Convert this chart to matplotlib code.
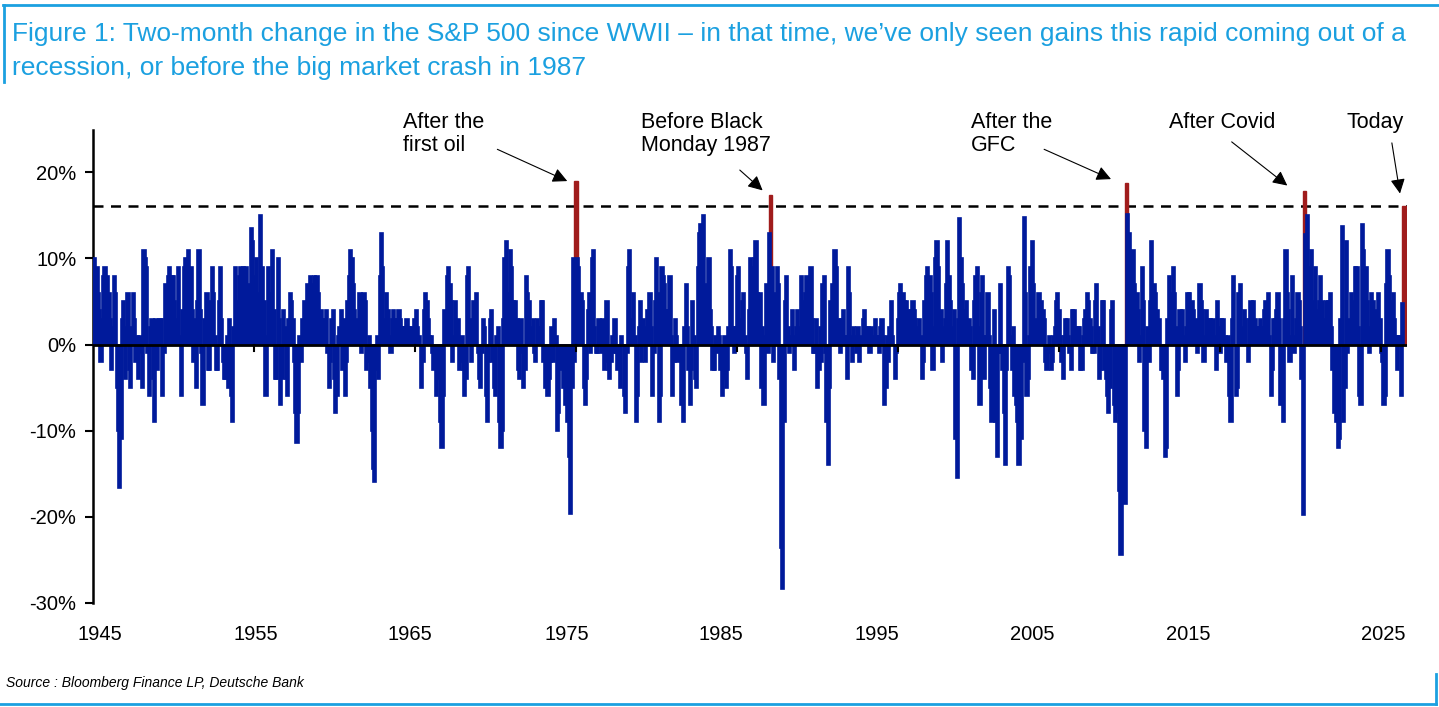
import matplotlib.pyplot as plt
import matplotlib.lines as mlines
import numpy as np

plt.rcParams['font.family'] = ['Liberation Sans', 'DejaVu Sans']

# two-month % change in the S&P 500, one row per year (Jan..Dec)
rows = {
1945: [7, 10, 8, 9, 6, 4, -2, 3, 8, 9, 7, 8],
1946: [6, 3, -3, 2, 8, 6, -5, -10, -16.7, -11, 3, 5],
1947: [-4, 2, 6, -3, -5, 2, 6, 3, -2, 1, -4, 1],
1948: [-1, -5, 11, 10, 9, -1, -6, 2, 3, -4, -9, 3],
1949: [-3, 2, 3, 3, -6, -1, 7, 5, 8, 9, 6, 8],
1950: [8, 5, 1, 3, 9, 1, -6, 4, 9, 10, 6, 11],
1951: [7, 9, 4, -2, 3, -5, 5, 11, 4, -1, -7, 3],
1952: [2, 6, -3, -3, 5, 9, 6, 1, -3, -3, 5, 9],
1953: [3, -2, -4, -4, 1, -5, 3, -6, -9, 2, 9, 4],
1954: [5, 8, 9, 8, 9, 5, 9, 5, 2, 7, 13.5, 12],
1955: [8, 3, 10, 5, 6, 15, 9, 2, 5, -6, 1, 9],
1956: [6, 3, 11, 4, -4, -4, 10, 3, -7, -4, 4, 2],
1957: [-4, -6, 3, 6, 5, 3, -2, -8, -11.4, -8, 1, -2],
1958: [3, 1, 5, 4, 7, 6, 8, 7, 5, 8, 7, 8],
1959: [6, 2, 4, 3, 1, 3, 4, -1, -5, -2, 3, 4],
1960: [-4, -8, -6, 1, 2, 4, -3, 3, -6, -2, 5, 8],
1961: [11, 10, 7, 4, 3, 1, 2, 6, -1, 1, 6, 5],
1962: [-3, -2, 1, -5, -10, -14.5, -16, -3, 1, -4, 8, 13],
1963: [9, 3, 2, 6, 4, 1, -1, 3, 4, 3, 2, 3],
1964: [4, 3, 2, 1, 2, 2, 3, 1, 2, 2, 1, 0],
1965: [3, 4, 2, 1, 0, -5, -2, 4, 6, 5, 3, 1],
1966: [1, -1, -3, -2, -6, -4, -3, -9, -12, -6, 4, 1],
1967: [8, 9, 7, 5, -2, 1, 5, 2, 3, -3, -2, 1],
1968: [-3, -6, -4, 8, 9, 3, -2, 1, 5, 3, 6, -1],
1969: [-4, -5, -1, 3, 2, -6, -9, -2, 3, 4, -2, -5],
1970: [-6, 1, 2, -9, -12, -10, 3, 10, 12, 5, 6, 11],
1971: [9, 5, 4, 5, 3, -3, -4, 3, -1, -5, -3, 8],
1972: [6, 5, 2, 1, 3, -1, -2, 3, 2, 2, 5, 5],
1973: [-2, -5, -3, -6, -4, -2, 2, -2, 3, 1, -10, -8],
1974: [-3, -1, -2, -5, -7, -3, -9, -13, -19.7, -5, 10, -2],
1975: [19, 10, 9, 5, 6, 5, -5, -7, -4, 4, 6, -1],
1976: [10, 11, 2, -1, -1, 3, 1, -1, 3, -3, -2, 5],
1977: [-3, -4, -2, 1, -1, 3, -1, -3, -2, -5, 1, 0],
1978: [-6, -8, -1, 9, 11, 2, 3, 6, 1, -9, -6, 2],
1979: [5, -2, 3, 2, -2, 4, 2, 6, 2, -6, -1, 5],
1980: [10, 6, -9, -6, 9, 8, 7, 4, 3, 4, 8, 1],
1981: [-6, -2, 3, 1, -2, -1, -1, -7, -9, 2, 7, 2],
1982: [-3, -7, -3, 5, 1, -4, -5, 9, 13, 14, 9, 15],
1983: [7, 5, 6, 10, 4, 2, -3, -3, 1, -1, 2, 1],
1984: [-3, -6, -4, 1, -5, -3, 2, 11, 9, 2, -1, 2],
1985: [8, 9, 3, 1, 5, 6, 1, -1, -4, 4, 10, 9],
1986: [4, 10, 12, 6, 3, 6, -5, 2, -7, 1, 7, -1],
1987: [13, 17.4, 9, -2, 1, 6, 9, 7, -4, -23.6, -28.4, -9],
1988: [5, 8, 2, -1, 1, 4, 1, -3, 2, 4, 1, 2],
1989: [8, 5, 2, 6, 8, 3, 6, 9, 3, -1, -1, 3],
1990: [-5, -3, 2, -2, 7, 8, -1, -9, -14, -5, 5, 7],
1991: [6, 11, 9, 2, 3, -1, 3, 4, 1, 1, -4, 9],
1992: [6, 1, -2, 2, 1, -1, 2, -2, 0, 1, 3, 4],
1993: [2, 1, 2, -1, 2, 1, 0, 3, 1, 1, -1, 2],
1994: [3, 1, -7, -5, 1, -2, 2, 5, 1, 0, -4, -1],
1995: [3, 6, 7, 5, 6, 5, 5, 2, 4, 1, 4, 5],
1996: [4, 3, 1, 2, 3, 1, -4, -2, 5, 8, 9, 6],
1997: [8, 6, -3, 2, 10, 12, 9, 1, 4, -2, 2, 3],
1998: [7, 12, 8, 5, 1, 2, 4, -11, -15.5, 3, 14.7, 10],
1999: [7, 3, 4, 5, 1, 3, 2, -3, -4, 5, 8, 9],
2000: [2, -7, 6, 8, -4, 1, 1, 6, 1, -5, -9, -8],
2001: [4, -9, -13, -1, 7, -1, -3, -8, -14, -3, 9, 8],
2002: [1, -3, 2, -6, -7, -9, -14, -9, -11, -2, 14.8, 6],
2003: [-6, -4, 1, 9, 12, 7, 3, 2, 2, 6, 3, 5],
2004: [4, 3, -2, -3, -1, 1, -3, -2, 1, 2, 5, 6],
2005: [4, 1, -2, -4, 1, 3, 3, 1, -1, -3, 4, 4],
2006: [2, 1, 2, 2, -3, -3, 1, 3, 4, 6, 5, 3],
2007: [2, -1, -1, 5, 7, 2, -4, -3, 5, 5, -3, -4],
2008: [-6, -8, -5, 4, 5, -7, -9, -1, -8, -17, -24.4, -9],
2009: [-4, -18.5, 18.8, 15.2, 13, 5, 9, 11, 7, 5, 6, 4],
2010: [-2, 1, 9, 5, -10, -12, 2, -2, 5, 12, 4, 7],
2011: [6, 4, 1, 3, -3, -3, -4, -13, -12, 3, 8, 1],
2012: [6, 9, 6, 2, -6, -3, 4, 3, 4, 1, -2, 2],
2013: [6, 6, 4, 5, 4, 0, 3, -1, 2, 7, 5, 4],
2014: [-2, 1, 4, 1, 3, 3, 1, 3, 1, -3, 5, 2],
2015: [-1, 3, 3, 0, 1, -2, 1, -6, -9, 3, 8, 0],
2016: [-6, -5, 6, 7, 2, 1, 4, 3, 0, -2, 3, 5],
2017: [3, 5, 3, 1, 2, 2, 3, 2, 2, 4, 5, 4],
2018: [6, 1, -6, -3, 3, 3, 4, 6, 3, -7, -5, -9],
2019: [3, 11, 6, 4, -2, 1, 8, -1, 1, 3, 6, 5],
2020: [2, -4, -19.8, 17.8, 12.8, 15, 8, 9, 11, 5, 3, 9],
2021: [4, 3, 5, 8, 5, 2, 3, 5, 1, 5, 6, 2],
2022: [-3, -8, -1, -9, -12, -11, 3, 13.8, -9, -5, 12, -1],
2023: [3, 1, 6, 5, 3, 9, 9, 2, -6, -7, 14, 11],
2024: [6, 9, 5, -1, 2, 6, 5, 3, 4, 1, 6, 3],
2025: [-1, -2, -7, -6, 7, 11, 8, 5, 4, 6, 3, 1],
2026: [-3, 1, 1, -6, 4.8, 16.1],
}

dates, vals = [], []
for yr, v in rows.items():
    for m, x in enumerate(v):
        dates.append(yr + m / 12)
        vals.append(x)
dates = np.array(dates)
vals = np.array(vals)

# highlighted episodes (year, month index)
hi = [(1975, 0), (1987, 1), (2009, 2), (2020, 3), (2026, 5)]
hi_idx = [sum(len(rows[k]) for k in rows if k < y) + m for y, m in hi]
mask = np.zeros(len(vals), bool)
mask[hi_idx] = True

blue = '#001a9b'
red = '#a01c1c'
light = '#1ba0e0'

fig = plt.figure(figsize=(14.39, 7.07), dpi=100)
ax = fig.add_axes([93/1439, 1-603/707, (1407-93)/1439, (603-130)/707])

ax.bar(dates[mask], vals[mask], width=0.2, color=red, edgecolor=red, lw=1, zorder=2)
ax.bar(dates[~mask], vals[~mask], width=0.2, color=blue, edgecolor=blue, lw=1.2, zorder=3)
ax.axhline(0, color='black', lw=2, zorder=4)
ax.axhline(16.1, color='black', lw=1.8, ls=(0, (4, 3)), zorder=1)
# decade tick marks sit on the zero line
for yr in range(1955, 2026, 10):
    ax.plot([yr, yr], [0, -0.8], color='black', lw=1.5, zorder=5)

ax.set_xlim(1945, 2026.6)
ax.set_ylim(-30, 24.9)
ax.set_yticks([-30, -20, -10, 0, 10, 20])
ax.set_yticklabels(['%d%%' % t for t in [-30, -20, -10, 0, 10, 20]])
ax.set_xticks([1945.4, 1955.1, 1964.7, 1974.4, 1984.0, 1993.7, 2003.3, 2013.0, 2025.1])
ax.set_xticklabels([str(y) for y in range(1945, 2026, 10)])
ax.tick_params(axis='x', length=0, pad=16, labelsize=14.5)
ax.tick_params(axis='y', length=6, width=1.5, labelsize=14.5, pad=6)
for s in ['top', 'right', 'bottom']:
    ax.spines[s].set_visible(False)
ax.spines['left'].set_linewidth(1.8)

def px2d(px, py):
    return 1945 + (px - 93) / 16.11, (344 - py) / 8.6

notes = [
    ("After the\nfirst oil", 403, (495, 148), (570, 182)),
    ("Before Black\nMonday 1987", 641, (738, 168), (765, 192)),
    ("After the\nGFC", 971, (1042, 148), (1114, 180)),
    ("After Covid", 1169, (1230, 140), (1290, 187)),
    ("Today", 1347, (1392, 140), (1401, 196)),
]
for txt, tx, start, tip in notes:
    ax.text(*px2d(tx, 112), txt, ha='left', va='top', fontsize=15.5, clip_on=False,
            linespacing=1.1)
    ax.annotate('', xy=px2d(*tip), xytext=px2d(*start), annotation_clip=False,
                arrowprops=dict(arrowstyle='-|>', color='black', lw=0.8,
                                mutation_scale=22))

fig.text(12/1439, 1-34/707, "Figure 1: Two-month change in the S&P 500 since WWII \u2013 in that time, we\u2019ve only seen gains this rapid coming out of a",
         color=light, fontsize=19, va='center')
fig.text(12/1439, 1-68/707, "recession, or before the big market crash in 1987",
         color=light, fontsize=19, va='center')
fig.text(6/1439, 1-683/707, "Source : Bloomberg Finance LP, Deutsche Bank", fontsize=10,
         style='italic', va='center')

# frame lines
fig.add_artist(mlines.Line2D([3/1439, 1], [1-5/707, 1-5/707], color=light, lw=2))
fig.add_artist(mlines.Line2D([4/1439, 4/1439], [1-5/707, 1-82/707], color=light, lw=2))
fig.add_artist(mlines.Line2D([0, 1436/1439], [1-704/707, 1-704/707], color=light, lw=2))
fig.add_artist(mlines.Line2D([1436/1439, 1436/1439], [1-674/707, 1-704/707], color=light, lw=2))

fig.savefig('out.png', dpi=100)
